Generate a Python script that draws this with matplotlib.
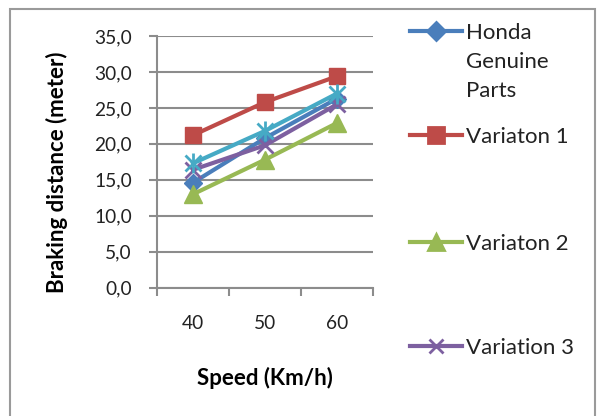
import matplotlib.pyplot as plt
from matplotlib.lines import Line2D
from matplotlib.patches import Rectangle
from matplotlib.ticker import FuncFormatter

plt.rcParams['font.family'] = ['Lato', 'DejaVu Sans']

speeds = ['40', '50', '60']
honda = [14.6, 20.8, 26.3]
var1 = [21.2, 25.8, 29.4]
var2 = [13.0, 17.8, 22.9]
var3 = [16.4, 19.8, 25.5]
var4 = [17.3, 21.8, 27.0]

names = ['Honda\nGenuine\nParts', 'Variaton 1', 'Variaton 2', 'Variation 3']
colors = ['#4A7EBB', '#BE4B48', '#98B954', '#7D60A0', '#46AAC5']

W, H = 601, 416
fig = plt.figure(figsize=(W / 100, H / 100), dpi=100)
ax = fig.add_axes([157 / W, 1 - 287.7 / H, 216 / W, 251.7 / H])

# outer chart frame
fig.patches.append(Rectangle((10 / W, -0.05), 585 / W, 1 - 9 / H + 0.05,
                             transform=fig.transFigure, fill=False,
                             edgecolor='#9a9a9a', linewidth=1.5))

xs = range(len(speeds))
ax.plot(xs, honda, color=colors[0], lw=3, marker='D', ms=9, zorder=3)
ax.plot(xs, var1, color=colors[1], lw=3, marker='s', ms=12, zorder=3)
ax.plot(xs, var2, color=colors[2], lw=3, marker='^', ms=13, zorder=3)
ax.plot(xs, var3, color=colors[3], lw=3, marker='x', ms=11, mew=2, zorder=3)
ax.plot(xs, var4, color=colors[4], lw=3, marker='x', ms=11, mew=2, zorder=3)
ax.plot(xs, var4, color=colors[4], lw=0, marker='|', ms=14, mew=2, zorder=3)

ax.set_xlim(-0.5, 2.5)
ax.set_ylim(0, 35)
ax.set_yticks(range(0, 36, 5))
ax.yaxis.set_major_formatter(FuncFormatter(lambda v, p: f'{v:.1f}'.replace('.', ',')))
ax.set_xticks([-0.5, 0.5, 1.5, 2.5])
ax.set_xticklabels([])
ax.set_xticks(list(xs), minor=True)
ax.set_xticklabels(speeds, minor=True)
ax.tick_params(axis='x', which='minor', length=0, pad=20, labelsize=13.8, labelcolor='#222222')
ax.tick_params(axis='x', which='major', length=6, width=1.5, color='#8c8c8c')
ax.tick_params(axis='y', length=6, width=1.5, color='#8c8c8c', labelsize=13.8,
               labelcolor='#222222', pad=12)
ax.grid(axis='y', color='#8c8c8c', lw=1.5)
ax.set_axisbelow(True)
for s in ['top', 'right']:
    ax.spines[s].set_visible(False)
for s in ['left', 'bottom']:
    ax.spines[s].set_color('#8c8c8c')
    ax.spines[s].set_linewidth(1.5)

ax.set_ylabel('Braking distance (meter)', fontsize=16, fontweight='bold', va='center')
ax.yaxis.set_label_coords(-100 / 216, (287.7 - 172) / 251.7)
ax.set_xlabel('Speed (Km/h)', fontsize=16, fontweight='bold', va='center')
ax.xaxis.set_label_coords(0.5, (287.7 - 378) / 251.7)

# legend, laid out like the original (last entry runs off the bottom)
markers = ['D', 's', '^', 'x']
sizes = [9, 11, 12, 10]
ys = [31, 135, 242, 346]
for name, c, m, sz, y in zip(names, colors, markers, sizes, ys):
    fy = 1 - y / H
    fig.add_artist(Line2D([410 / W, 462 / W], [fy, fy], color=c, lw=3,
                          transform=fig.transFigure))
    fig.add_artist(Line2D([436 / W], [fy], color=c, marker=m, ms=sz, mew=2,
                          transform=fig.transFigure))
    for i, line in enumerate(name.split('\n')):
        fig.text(466 / W, 1 - (y + i * 29) / H, line, fontsize=16, color='#222222',
                 va='center_baseline', ha='left')

fig.savefig('out.png', dpi=100)
